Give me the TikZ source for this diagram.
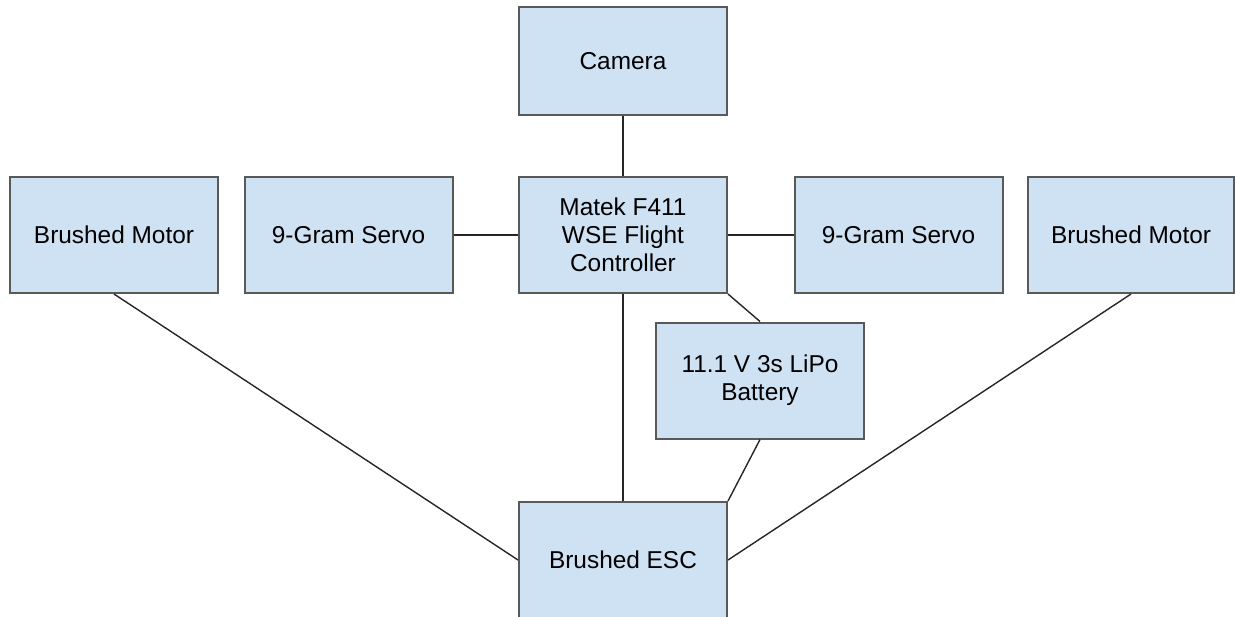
\documentclass[tikz,border=0pt]{standalone}
\usepackage{fontspec}
\setmainfont{Liberation Sans}
\definecolor{boxfill}{HTML}{CFE2F3}
\definecolor{boxline}{HTML}{595959}
\begin{document}
\begin{tikzpicture}[x=0.5pt,y=-0.5pt,
  blk/.style={draw=boxline, fill=boxfill, line width=1pt, rectangle,
    minimum width=104pt, minimum height=58pt, inner sep=0pt,
    align=center, font=\fontsize{12.2}{14}\selectfont},
  wire/.style={draw=black!85, line width=0.7pt}]
\useasboundingbox (0,0) rectangle (1235,616);
\node[blk, minimum height=54pt] (cam) at (623,61) {Camera};
\node[blk] (motorL) at (114,235) {Brushed Motor};
\node[blk] (servoL) at (348.5,235) {9-Gram Servo};
\node[blk] (matek) at (623,235) {Matek F411\\WSE Flight\\Controller};
\node[blk] (servoR) at (898.5,235) {9-Gram Servo};
\node[blk, minimum width=103pt] (motorR) at (1131,235) {Brushed Motor};
\node[blk] (batt) at (760,380.5) {11.1 V 3s LiPo\\Battery};
\node[blk] (esc) at (623,560) {Brushed ESC};
\draw[wire] (cam) -- (matek);
\draw[wire] (servoL) -- (matek);
\draw[wire] (matek) -- (servoR);
\draw[wire] (matek.south) -- (esc.north);
\draw[wire] (matek.south east) -- (batt.north);
\draw[wire] (batt.south) -- (esc.north east);
\draw[wire] (motorL.south) -- (esc.west);
\draw[wire] (motorR.south) -- (esc.east);
\end{tikzpicture}
\end{document}
